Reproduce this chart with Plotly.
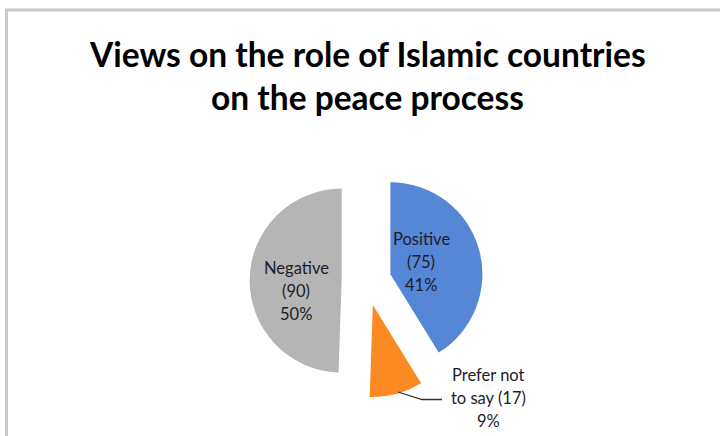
import math
import plotly.graph_objects as go

# Survey responses
categories = ["Positive", "Prefer not to say", "Negative"]
counts = [75, 17, 90]
percent_labels = ["41%", "9%", "50%"]
slice_colors = ["#5686d6", "#fc8a22", "#b5b5b5"]

title_lines = ["Views on the role of Islamic countries", "on the peace process"]

W, H = 720, 436
FONT = "Lato"


def px(x):
    return x / W


def py(y):
    return 1 - y / H


# Pie geometry (pixels)
cx, cy, radius, pull = 366.5, 281.0, 92.0, 0.27
half = radius * (1 + pull)

fig = go.Figure(go.Pie(
    labels=categories,
    values=counts,
    sort=False,
    direction="clockwise",
    rotation=0,
    pull=[pull] * len(counts),
    marker=dict(colors=slice_colors, line=dict(width=0)),
    textinfo="none",
    hoverinfo="label+value+percent",
    showlegend=False,
    domain=dict(x=[px(cx - half), px(cx + half)], y=[py(cy + half), py(cy - half)]),
))

annotations = []

# Title, one annotation per line
for text, y in zip(title_lines, [54, 97]):
    annotations.append(dict(
        text=f"<b>{text}</b>", x=px(367), y=py(y), xref="paper", yref="paper",
        showarrow=False, xanchor="center", yanchor="middle",
        font=dict(family=FONT, size=33.5, color="#000000"),
    ))

# Data labels: name, (count), percent on separate lines
label_lines = [
    [categories[0], f"({counts[0]})", percent_labels[0]],
    ["Prefer not", f"to say ({counts[1]})", percent_labels[1]],
    [categories[2], f"({counts[2]})", percent_labels[2]],
]
label_pos = [(421, 239), (488, 375), (296, 268)]
line_gap = 23
for lines, (lx, ly) in zip(label_lines, label_pos):
    for k, t in enumerate(lines):
        annotations.append(dict(
            text=t, x=px(lx), y=py(ly + k * line_gap), xref="paper", yref="paper",
            showarrow=False, xanchor="center", yanchor="middle",
            font=dict(family=FONT, size=16.5, color="#1c1c2c"),
        ))

shapes = [
    # chart frame
    dict(type="line", xref="paper", yref="paper", x0=px(5), x1=px(720), y0=py(10), y1=py(10),
         line=dict(color="#c9c9c9", width=3)),
    dict(type="line", xref="paper", yref="paper", x0=px(6.5), x1=px(6.5), y0=py(9), y1=py(436),
         line=dict(color="#c9c9c9", width=3)),
    # leader line for the small slice
    dict(type="path", xref="paper", yref="paper",
         path=f"M {px(398)},{py(392)} L {px(422)},{py(399.5)} L {px(442)},{py(399.5)}",
         line=dict(color="#333333", width=1.3)),
]

fig.update_layout(
    width=W, height=H,
    margin=dict(l=0, r=0, t=0, b=0),
    paper_bgcolor="white",
    plot_bgcolor="white",
    annotations=annotations,
    shapes=shapes,
)

fig.write_html("out.html")
